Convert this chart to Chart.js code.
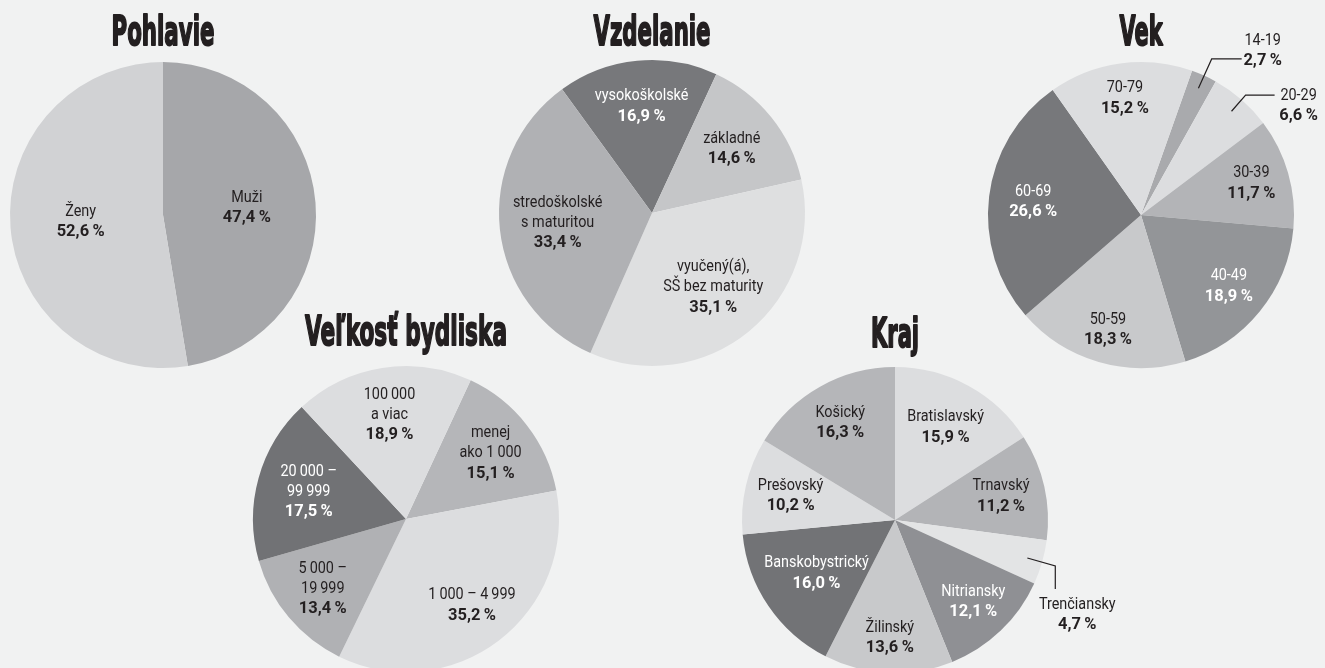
<!DOCTYPE html>
<html>
<head>
<meta charset="utf-8">
<script src="https://cdn.jsdelivr.net/npm/chart.js@4.4.1/dist/chart.umd.min.js"></script>
<style>
html, body { margin: 0; padding: 0; background: #f1f2f2; width: 1325px; height: 668px; overflow: hidden; position: relative; }
canvas { position: absolute; }
</style>
</head>
<body>
<canvas id="pohlavie" width="480" height="480" style="left:-77px;top:-25px"></canvas>
<canvas id="vzdelanie" width="480" height="480" style="left:412px;top:-27px"></canvas>
<canvas id="vek" width="480" height="480" style="left:901px;top:-25px"></canvas>
<canvas id="bydlisko" width="480" height="480" style="left:166px;top:279px"></canvas>
<canvas id="kraj" width="480" height="480" style="left:655px;top:280px"></canvas>
<script>
// data
const pohlavieLabels = [['Muži'], ['Ženy']];
const pohlavieValues = [47.4, 52.6];

const vzdelanieLabels = [['vysokoškolské'], ['základné'], ['vyučený(á),', 'SŠ bez maturity'], ['stredoškolské', 's maturitou']];
const vzdelanieValues = [16.9, 14.6, 35.1, 33.4];

const vekLabels = [['14-19'], ['20-29'], ['30-39'], ['40-49'], ['50-59'], ['60-69'], ['70-79']];
const vekValues = [2.7, 6.6, 11.7, 18.9, 18.3, 26.6, 15.2];

const bydliskoLabels = [['menej', 'ako 1\u2009000'], ['1\u2009000 – 4\u2009999'], ['5\u2009000 –', '19\u2009999'], ['20\u2009000 –', '99\u2009999'], ['100\u2009000', 'a viac']];
const bydliskoValues = [15.1, 35.2, 13.4, 17.5, 18.9];

const krajLabels = [['Bratislavský'], ['Trnavský'], ['Trenčiansky'], ['Nitriansky'], ['Žilinský'], ['Banskobystrický'], ['Prešovský'], ['Košický']];
const krajValues = [15.9, 11.2, 4.7, 12.1, 13.6, 16.0, 10.2, 16.3];

const dark = '#231f20';

function pct(v) {
  return v.toFixed(1).replace('.', ',') + '\u2009%';
}

// narrower text, the original uses a condensed face
function squeezed(ctx, text, x, y, sx) {
  ctx.save();
  ctx.translate(x, y);
  ctx.scale(sx, 1);
  ctx.fillText(text, 0, 0);
  ctx.restore();
}

// slice labels (inside, or outside with a leader line)
const pieText = {
  id: 'pieText',
  afterDatasetsDraw(chart, args, opts) {
    const ctx = chart.ctx;
    const meta = chart.getDatasetMeta(0);
    const labels = chart.data.labels;
    const values = chart.data.datasets[0].data;
    const lh = 20;
    ctx.save();
    ctx.textAlign = 'center';
    ctx.textBaseline = 'middle';
    meta.data.forEach((arc, i) => {
      const p = arc.getProps(['x', 'y', 'startAngle', 'endAngle', 'outerRadius'], true);
      const mid = (p.startAngle + p.endAngle) / 2;
      const lines = labels[i];
      const lead = (opts.leaders || {})[i];
      let tx, ty;
      if (lead) {
        const x1 = p.x + Math.cos(mid) * p.outerRadius * lead.r1;
        const y1 = p.y + Math.sin(mid) * p.outerRadius * lead.r1;
        const x2 = p.x + Math.cos(mid) * p.outerRadius * lead.r2;
        const y2 = p.y + Math.sin(mid) * p.outerRadius * lead.r2;
        let x3 = x2, y3 = y2;
        if (lead.dir === 'h') x3 += lead.len; else y3 += lead.len;
        ctx.strokeStyle = dark;
        ctx.lineWidth = 1.2;
        ctx.beginPath();
        ctx.moveTo(x1, y1);
        ctx.lineTo(x2, y2);
        ctx.lineTo(x3, y3);
        ctx.stroke();
        tx = x3 + lead.tx;
        ty = y3 + lead.ty;
      } else {
        const f = opts.dist[i];
        tx = p.x + Math.cos(mid) * p.outerRadius * f;
        ty = p.y + Math.sin(mid) * p.outerRadius * f - lines.length * lh / 2;
      }
      ctx.fillStyle = (opts.white || []).includes(i) ? '#ffffff' : dark;
      ctx.font = '16px Roboto';
      lines.forEach((t, k) => squeezed(ctx, t, tx, ty + k * lh, 0.9));
      ctx.font = 'bold 17px Roboto';
      squeezed(ctx, pct(values[i]), tx, ty + lines.length * lh, 0.97);
    });
    ctx.restore();
  }
};

// heavy condensed title above each pie
const fitTitle = {
  id: 'fitTitle',
  afterDraw(chart, args, opts) {
    const ctx = chart.ctx;
    const a = chart.chartArea;
    const cx = (a.left + a.right) / 2;
    const cy = (a.top + a.bottom) / 2;
    ctx.save();
    ctx.font = 'bold 40px "DejaVu Sans"';
    const w = ctx.measureText(opts.text).width;
    ctx.translate(cx, cy + opts.dy);
    ctx.scale(opts.width / w, 1);
    ctx.textAlign = 'center';
    ctx.textBaseline = 'alphabetic';
    ctx.fillStyle = dark;
    ctx.strokeStyle = dark;
    ctx.lineWidth = 2;
    ctx.lineJoin = 'round';
    ctx.strokeText(opts.text, 0, 0);
    ctx.fillText(opts.text, 0, 0);
    ctx.restore();
  }
};

function makePie(id, labels, values, colors, rotation, textOpts, titleOpts) {
  return new Chart(document.getElementById(id), {
    type: 'pie',
    data: {
      labels: labels,
      datasets: [{
        data: values,
        backgroundColor: colors,
        borderWidth: 0
      }]
    },
    options: {
      responsive: false,
      animation: false,
      rotation: rotation,
      layout: { padding: 87 },
      events: [],
      plugins: {
        legend: { display: false },
        tooltip: { enabled: false },
        pieText: textOpts,
        fitTitle: titleOpts
      }
    },
    plugins: [pieText, fitTitle]
  });
}

makePie('pohlavie', pohlavieLabels, pohlavieValues,
  ['#a6a7aa', '#d1d2d4'], 0,
  { dist: [0.55, 0.54] },
  { text: 'Pohlavie', width: 103, dy: -170 });

makePie('vzdelanie', vzdelanieLabels, vzdelanieValues,
  ['#77787b', '#c5c6c8', '#dedfe0', '#b0b1b4'], -36,
  { dist: [0.70, 0.67, 0.63, 0.62], white: [0] },
  { text: 'Vzdelanie', width: 117, dy: -168 });

makePie('vek', vekLabels, vekValues,
  ['#a9aaad', '#dcdddf', '#b3b4b7', '#939598', '#c8c9cb', '#77787b', '#dcdddf'], 19.5,
  {
    dist: [0, 0, 0.75, 0.74, 0.78, 0.71, 0.77], white: [3, 5],
    leaders: {
      0: { r1: 0.91, r2: 1.12, dir: 'h', len: 30, tx: 21, ty: -18 },
      1: { r1: 0.90, r2: 1.04, dir: 'h', len: 29, tx: 24, ty: 1 }
    }
  },
  { text: 'Vek', width: 43, dy: -170 });

makePie('bydlisko', bydliskoLabels, bydliskoValues,
  ['#b5b6b9', '#dcdddf', '#b0b1b4', '#717275', '#dcdddf'], 25,
  { dist: [0.70, 0.71, 0.71, 0.66, 0.69], white: [3] },
  { text: 'Veľkosť bydliska', width: 202, dy: -174 });

makePie('kraj', krajLabels, krajValues,
  ['#dcdddf', '#b3b4b7', '#e3e4e5', '#8f9094', '#c8c9cb', '#727376', '#dcdddf', '#b5b6b9'], 0,
  {
    dist: [0.69, 0.71, 0, 0.74, 0.77, 0.62, 0.70, 0.73], white: [3, 5],
    leaders: {
      2: { r1: 0.90, r2: 1.09, dir: 'v', len: 23, tx: 22, ty: 16 }
    }
  },
  { text: 'Kraj', width: 48, dy: -173 });
</script>
</body>
</html>
